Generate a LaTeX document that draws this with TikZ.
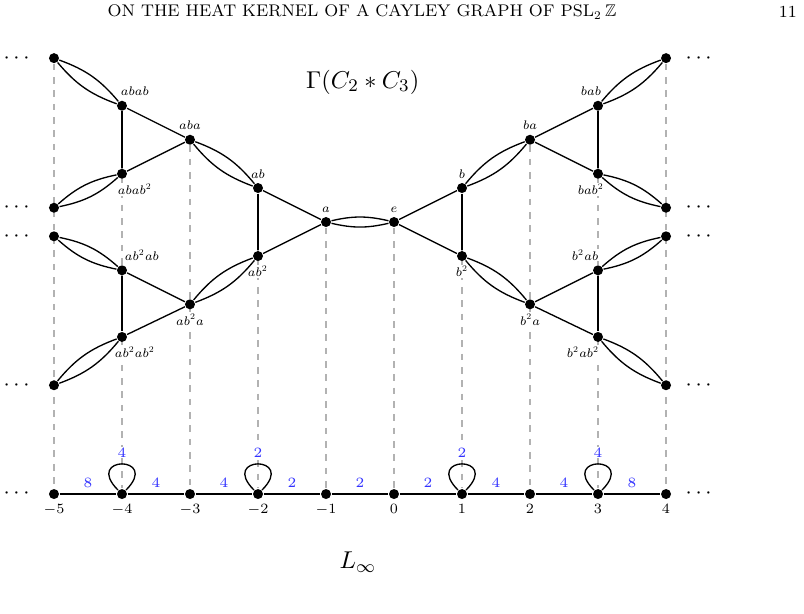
\RequirePackage{fix-cm}
\documentclass[tikz,border=0pt]{standalone}
\usepackage{amsmath}
\usepackage{amssymb}
\usetikzlibrary{positioning,backgrounds}
% small sizes drawn from the 7pt designs, scaled down
\DeclareFontShape{OML}{cmm}{m}{it}{<-8> cmmi7 <8-9> cmmi8 <9-10> cmmi9 <10-12> cmmi10 <12-> cmmi12}{\skewchar\font'177}
\DeclareFontShape{OMS}{cmsy}{m}{n}{<-8> cmsy7 <8-9> cmsy8 <9-10> cmsy9 <10-> cmsy10}{\skewchar\font'60}
\DeclareFontShape{OT1}{cmr}{m}{n}{<-8> cmr7 <8-9> cmr8 <9-10> cmr9 <10-12> cmr10 <12-17> cmr12 <17-> cmr17}{}

\begin{document}
\begin{tikzpicture}[semithick,x=30.6pt,y=30.6pt,node distance=30.6pt,
                dot/.style={circle,fill=black,inner sep=0pt,minimum size=4.5pt},
                lbl/.style={fill=white,inner sep=0.4pt,font=\fontsize{5.6}{6}\selectfont},
                num/.style={inner sep=0.5pt,font=\fontsize{6.4}{7}\selectfont},
                wt/.style={above=2.2pt,fill=white,inner sep=0.5pt,text=blue!80,font=\fontsize{6.4}{7}\selectfont},
                dd/.style={inner sep=0pt},
                lp/.style={loop above,out=135,in=45,min distance=7.8mm},
                vline/.style={dashed,black!30,line width=0.5pt},
                every loop/.style={},
                label distance=1.2pt]
            \useasboundingbox (-5.794,-1.75) rectangle (6.029,7.265);

            % header and titles
            \node (head) at (-0.47,7.09) {\fontsize{7.6}{9}\selectfont ON THE HEAT KERNEL OF A CAYLEY GRAPH OF PSL$_2\,\mathbb{Z}$};
            \node (page) at (5.79,7.09)  {\fontsize{7.6}{9}\selectfont 11};
            \node (gam)  at (-0.46,6.06) {\fontsize{10.95}{13}\selectfont $\Gamma(C_2*C_3)$};
            \node (linf) at (-0.53,-1.0) {\fontsize{10.95}{13}\selectfont $L_\infty$};

            % the Cayley graph
            \node [dot,label={[lbl]above:$e$}]                      (e)      at (0,4)     {};
            \node [dot,label={[lbl]above:$a$}]                      (a)      at (-1,4)    {};
            \node [dot,label={[lbl]above:$ab$}]                     (ab)     at (-2,4.5)  {};
            \node [dot,label={[lbl]below:$ab^2$}]                   (abb)    at (-2,3.5)  {};
            \node [dot,label={[lbl]above:$aba$}]                    (aba)    at (-3,5.21) {};
            \node [dot,label={[lbl]below:$ab^2a$}]                  (abba)   at (-3,2.79) {};
            \node [dot,label={[lbl,xshift=5.8pt]above:$abab$}]      (abab)   at (-4,5.71) {};
            \node [dot,label={[lbl,xshift=5.8pt]below:$abab^2$}]    (ababb)  at (-4,4.71) {};
            \node [dot,label={[lbl,xshift=9pt]above:$ab^2ab$}]      (abbab)  at (-4,3.29) {};
            \node [dot,label={[lbl,xshift=5.8pt]below:$ab^2ab^2$}]  (abbabb) at (-4,2.31) {};
            \node [dot]                                             (l1)     at (-5,6.41) {};
            \node [dot]                                             (l2)     at (-5,4.21) {};
            \node [dot]                                             (l3)     at (-5,3.79) {};
            \node [dot]                                             (l4)     at (-5,1.60) {};
            \node [dot,label={[lbl]above:$b$}]                      (b)      at (1,4.5)   {};
            \node [dot,label={[lbl]below:$b^2$}]                    (bb)     at (1,3.5)   {};
            \node [dot,label={[lbl]above:$ba$}]                     (ba)     at (2,5.21)  {};
            \node [dot,label={[lbl]below:$b^2a$}]                   (bba)    at (2,2.79)  {};
            \node [dot,label={[lbl,xshift=-3.2pt]above:$bab$}]      (bab)    at (3,5.71)  {};
            \node [dot,label={[lbl,xshift=-3.2pt]below:$bab^2$}]    (babb)   at (3,4.71)  {};
            \node [dot,label={[lbl,xshift=-5.8pt]above:$b^2ab$}]    (bbab)   at (3,3.29)  {};
            \node [dot,label={[lbl,xshift=-6.7pt]below:$b^2ab^2$}]  (bbabb)  at (3,2.31)  {};
            \node [dot]                                             (r1)     at (4,6.41)  {};
            \node [dot]                                             (r2)     at (4,4.21)  {};
            \node [dot]                                             (r3)     at (4,3.79)  {};
            \node [dot]                                             (r4)     at (4,1.60)  {};

            \node [dd,left=6.5pt of l1]  (dl1) {$\cdots$};
            \node [dd,left=6.5pt of l2]  (dl2) {$\cdots$};
            \node [dd,left=6.5pt of l3]  (dl3) {$\cdots$};
            \node [dd,left=6.5pt of l4]  (dl4) {$\cdots$};
            \node [dd,right=6pt of r1]   (dr1) {$\cdots$};
            \node [dd,right=6pt of r2]   (dr2) {$\cdots$};
            \node [dd,right=6pt of r3]   (dr3) {$\cdots$};
            \node [dd,right=6pt of r4]   (dr4) {$\cdots$};

            \path
            (e)      edge [bend left=13]  (a)
                     edge [bend right=13] (a)
                     edge                 (b)
                     edge                 (bb)
            (a)      edge                 (ab)
                     edge                 (abb)
            (ab)     edge                 (abb)
                     edge [bend left=15]  (aba)
                     edge [bend right=15] (aba)
            (abb)    edge [bend left=15]  (abba)
                     edge [bend right=15] (abba)
            (aba)    edge                 (abab)
                     edge                 (ababb)
            (abab)   edge                 (ababb)
                     edge [bend left=15]  (l1)
                     edge [bend right=15] (l1)
            (ababb)  edge [bend left=15]  (l2)
                     edge [bend right=15] (l2)
            (abba)   edge                 (abbab)
                     edge                 (abbabb)
            (abbab)  edge                 (abbabb)
                     edge [bend left=15]  (l3)
                     edge [bend right=15] (l3)
            (abbabb) edge [bend left=15]  (l4)
                     edge [bend right=15] (l4)
            (b)      edge                 (bb)
                     edge [bend left=15]  (ba)
                     edge [bend right=15] (ba)
            (bb)     edge [bend left=15]  (bba)
                     edge [bend right=15] (bba)
            (ba)     edge                 (bab)
                     edge                 (babb)
            (bab)    edge                 (babb)
                     edge [bend left=15]  (r1)
                     edge [bend right=15] (r1)
            (babb)   edge [bend left=15]  (r2)
                     edge [bend right=15] (r2)
            (bba)    edge                 (bbab)
                     edge                 (bbabb)
            (bbab)   edge                 (bbabb)
                     edge [bend left=15]  (r3)
                     edge [bend right=15] (r3)
            (bbabb)  edge [bend left=15]  (r4)
                     edge [bend right=15] (r4);

            % the quotient line
            \node [dot,label={[num]below:$-5$}] (m5) at (-5,0)     {};
            \node [dot,label={[num]below:$-4$}] (m4) [right of=m5] {};
            \node [dot,label={[num]below:$-3$}] (m3) [right of=m4] {};
            \node [dot,label={[num]below:$-2$}] (m2) [right of=m3] {};
            \node [dot,label={[num]below:$-1$}] (m1) [right of=m2] {};
            \node [dot,label={[num]below:$0$}]  (z0) [right of=m1] {};
            \node [dot,label={[num]below:$1$}]  (p1) [right of=z0] {};
            \node [dot,label={[num]below:$2$}]  (p2) [right of=p1] {};
            \node [dot,label={[num]below:$3$}]  (p3) [right of=p2] {};
            \node [dot,label={[num]below:$4$}]  (p4) [right of=p3] {};
            \node [dd,left=6.5pt of m5]  (dm) {$\cdots$};
            \node [dd,right=6pt of p4]   (dp) {$\cdots$};

            \path
            (m5) edge          node [wt] {8} (m4)
            (m4) edge          node [wt] {4} (m3)
                 edge [lp]     node [wt] {4} (m4)
            (m3) edge          node [wt] {4} (m2)
            (m2) edge          node [wt] {2} (m1)
                 edge [lp]     node [wt] {2} (m2)
            (m1) edge          node [wt] {2} (z0)
            (z0) edge          node [wt] {2} (p1)
            (p1) edge          node [wt] {4} (p2)
                 edge [lp]     node [wt] {2} (p1)
            (p2) edge          node [wt] {4} (p3)
            (p3) edge          node [wt] {8} (p4)
                 edge [lp]     node [wt] {4} (p3);

            \begin{pgfonlayer}{background}
            \foreach \t/\s in {l1/m5,abab/m4,aba/m3,ab/m2,a/m1,e/z0,b/p1,ba/p2,bab/p3,r1/p4}
                \draw [vline] (\t) -- (\s);
            \end{pgfonlayer}
        \end{tikzpicture}
\end{document}
